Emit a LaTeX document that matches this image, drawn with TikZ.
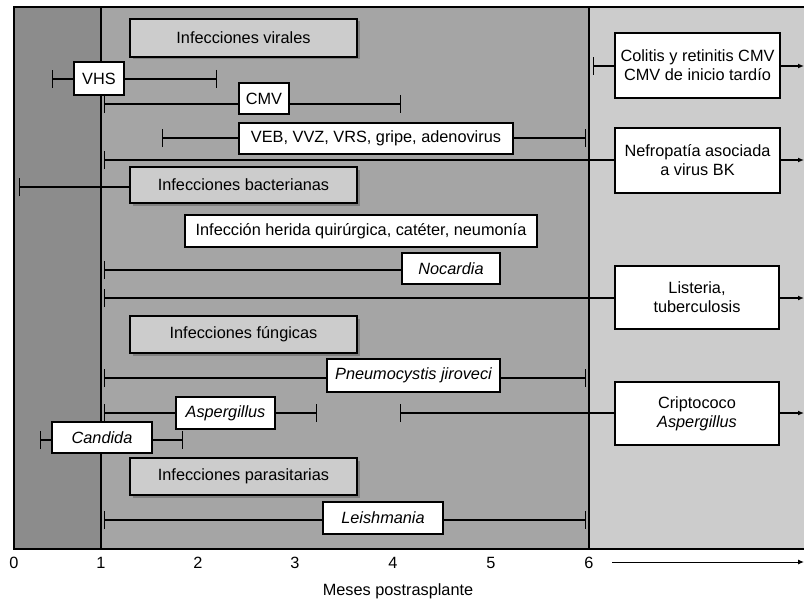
\documentclass[tikz,border=0pt]{standalone}
\usepackage{fontspec}
\setmainfont{Liberation Sans}
\usetikzlibrary{arrows.meta,shadows}
\definecolor{darkreg}{RGB}{140,140,140}
\definecolor{midreg}{RGB}{165,165,165}
\definecolor{lightreg}{RGB}{204,204,204}
\definecolor{hdrfill}{RGB}{204,204,204}
\tikzset{
  txt/.style={font=\fontsize{16.3}{19}\selectfont},
  box/.style={txt,draw=black,line width=1.3pt,fill=white,inner sep=0pt,align=center},
  hdr/.style={txt,draw=black,line width=1.3pt,fill=hdrfill,inner sep=0pt,
     minimum width=227pt,minimum height=37pt,
     general shadow={shadow xshift=2.5pt,shadow yshift=-2.5pt,fill=black!50}},
  conn/.style={line width=1.3pt},
  tickL/.style={conn,{Bar[width=18pt]}-},
  tickR/.style={conn,-{Bar[width=18pt]}},
  tickLR/.style={conn,{Bar[width=18pt]}-{Bar[width=18pt]}},
  arr/.style={conn,-{Latex[length=6pt,width=5pt]}},
  axlab/.style={txt,inner sep=0pt}
}
\begin{document}
\begin{tikzpicture}[x=1pt,y=-1pt]
\useasboundingbox (0,0) rectangle (804,602);
% regions
\fill[darkreg] (14,7) rectangle (101,549);
\fill[midreg] (101,7) rectangle (589,549);
\fill[lightreg] (589,7) rectangle (804,549);
\draw[line width=1.3pt] (804,7) -- (14,7) -- (14,549) -- (804,549);
\draw[line width=1.3pt] (101,7) -- (101,549);
\draw[line width=1.3pt] (589,7) -- (589,549);

% headers
\node[hdr,minimum height=38pt] (hv) at (243.5,38) {Infecciones virales};
\node[hdr,minimum height=36pt] (hb) at (243.5,185) {Infecciones bacterianas};
\node[hdr] (hf) at (243.5,334.5) {Infecciones fúngicas};
\node[hdr] (hp) at (243.5,476.5) {Infecciones parasitarias};

% coordinates for tick ends
\coordinate (vhsL) at (52,79);   \coordinate (vhsR) at (217,79);
\coordinate (cmvL) at (104,104); \coordinate (cmvR) at (401,104);
\coordinate (vebL) at (162,138); \coordinate (vebR) at (586,138);
\coordinate (colL) at (593,66);  \coordinate (colR) at (804,66);
\coordinate (bkL) at (104,160);  \coordinate (bkR) at (804,160);
\coordinate (bacL) at (19,187);
\coordinate (nocL) at (104,270);
\coordinate (lisL) at (104,298); \coordinate (lisR) at (804,298);
\coordinate (pneL) at (104,378); \coordinate (pneR) at (586,378);
\coordinate (aspL) at (104,413); \coordinate (aspR) at (317,413);
\coordinate (criL) at (400,413); \coordinate (criR) at (804,413);
\coordinate (canL) at (40,440);  \coordinate (canR) at (183,440);
\coordinate (leiL) at (104,520); \coordinate (leiR) at (586,520);

% connectors (drawn under boxes)
\draw[tickL] (vhsL) -- (99,79);
\draw[tickR] (99,79) -- (vhsR);
\draw[tickLR] (cmvL) -- (cmvR);
\draw[tickLR] (vebL) -- (vebR);
\draw[tickL] (colL) -- (697,66);
\draw[arr] (697,66) -- (colR);
\draw[tickL] (bkL) -- (697,160);
\draw[arr] (697,160) -- (bkR);
\draw[tickL] (bacL) -- (130,187);
\draw[tickL] (nocL) -- (420,270);
\draw[tickL] (lisL) -- (697,298);
\draw[arr] (697,298) -- (lisR);
\draw[tickLR] (pneL) -- (pneR);
\draw[tickLR] (aspL) -- (aspR);
\draw[tickL] (criL) -- (697,413);
\draw[arr] (697,413) -- (criR);
\draw[tickLR] (canL) -- (canR);
\draw[tickLR] (leiL) -- (leiR);

% boxes
\node[box,minimum width=50pt,minimum height=33pt] (vhs) at (99,78.5) {VHS};
\node[box,minimum width=50pt,minimum height=31pt] (cmv) at (264,98.5) {CMV};
\node[box,minimum width=274pt,minimum height=31pt] (veb) at (376,138.5) {VEB, VVZ, VRS, gripe, adenovirus};
\node[box,minimum width=165pt,minimum height=65pt] (col) at (697.5,65.5) {Colitis y retinitis CMV\\CMV de inicio tardío};
\node[box,minimum width=165pt,minimum height=65pt] (bk) at (697.5,160.5) {Nefropatía asociada\\a virus BK};
\node[box,minimum width=352pt,minimum height=32pt] (her) at (361,231) {Infección herida quirúrgica, catéter, neumonía};
\node[box,minimum width=98pt,minimum height=31pt] (noc) at (451,268.5) {\itshape Nocardia};
\node[box,minimum width=164pt,minimum height=63pt] (lis) at (697,297.5) {Listeria,\\tuberculosis};
\node[box,minimum width=173pt,minimum height=33pt] (pne) at (413.5,375.5) {\itshape Pneumocystis jiroveci};
\node[box,minimum width=99pt,minimum height=32pt] (asp) at (225.5,413) {\itshape Aspergillus};
\node[box,minimum width=164pt,minimum height=63pt] (cri) at (697,413.5) {Criptococo\\\itshape Aspergillus};
\node[box,minimum width=100pt,minimum height=31pt] (can) at (102,437.5) {\itshape Candida};
\node[box,minimum width=120pt,minimum height=32pt] (lei) at (383,518) {\itshape Leishmania};

% axis
\node[axlab] (a0) at (14,563) {0};
\node[axlab] (a1) at (101,563) {1};
\node[axlab] (a2) at (198,563) {2};
\node[axlab] (a3) at (295,563) {3};
\node[axlab] (a4) at (393,563) {4};
\node[axlab] (a5) at (491,563) {5};
\node[axlab] (a6) at (589,563) {6};
\coordinate (axS) at (612,562);
\coordinate (axE) at (804,562);
\draw[line width=1pt,-{Latex[length=6pt,width=5pt]}] (axS) -- (axE);
\node[axlab] (lab) at (398,591) {Meses postrasplante};
\end{tikzpicture}
\end{document}
